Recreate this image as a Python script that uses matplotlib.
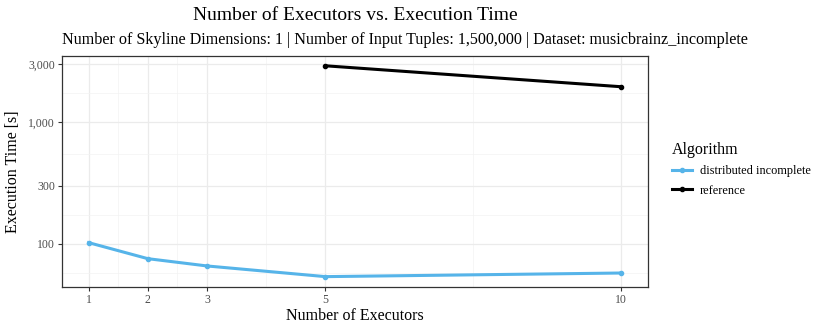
import matplotlib
matplotlib.use("Agg")
import matplotlib.pyplot as plt
from matplotlib.ticker import FixedLocator, NullFormatter

plt.rcParams['font.family'] = ['Liberation Serif', 'DejaVu Serif']

executors = [1, 2, 3, 5, 10]
dist_x = [1, 2, 3, 5, 10]
dist_y = [102, 75.3, 65.6, 53.6, 57.4]
ref_x = [5, 10]
ref_y = [2900, 1950]
x_ticks = [1, 2, 3, 5, 10]
y_ticks = [100, 300, 1000, 3000]
y_labels = ["100", "300", "1,000", "3,000"]

W, H = 830, 332
fig = plt.figure(figsize=(W/100, H/100), dpi=100)
L, R, T, B = 62, 648, 56, 286.7
ax = fig.add_axes([L/W, 1 - B/H, (R-L)/W, (B-T)/H])

ax.set_yscale('log')
ax.set_xlim(0.55, 10.45)
ax.set_ylim(44.3, 3490)

ax.plot(dist_x, dist_y, color='#56B4E9', lw=2.2, marker='o', ms=3.0, label='distributed incomplete', zorder=3)
ax.plot(ref_x, ref_y, color='black', lw=2.2, marker='o', ms=3.0, label='reference', zorder=3)

ax.xaxis.set_major_locator(FixedLocator(x_ticks))
ax.set_xticklabels([str(v) for v in x_ticks])
ax.xaxis.set_minor_locator(FixedLocator([1.5, 2.5, 4, 7.5]))
ax.yaxis.set_major_locator(FixedLocator(y_ticks))
ax.set_yticklabels(y_labels)
ax.yaxis.set_minor_locator(FixedLocator([57.7, 173.2, 547.7, 1732]))
ax.yaxis.set_minor_formatter(NullFormatter())
ax.xaxis.set_minor_formatter(NullFormatter())

ax.grid(which='major', color='#EBEBEB', lw=0.9)
ax.grid(which='minor', color='#F3F3F3', lw=0.5)
ax.set_axisbelow(True)
ax.tick_params(which='major', length=3, width=0.8, color='#333333', labelcolor='#4D4D4D', labelsize=8.5, pad=2)
ax.tick_params(which='minor', length=0)
for s in ax.spines.values():
    s.set_color('#333333')
    s.set_linewidth(0.9)

ax.set_xlabel('Number of Executors', fontsize=11.5, labelpad=2)
ax.set_ylabel('Execution Time [s]', fontsize=11.5, labelpad=5)

fig.text(355/W, 1 - 16/H, 'Number of Executors vs. Execution Time', ha='center', va='center', fontsize=14)
fig.text(L/W, 1 - 40/H, 'Number of Skyline Dimensions: 1 | Number of Input Tuples: 1,500,000 | Dataset: musicbrainz_incomplete',
         ha='left', va='center', fontsize=11.6)

leg = fig.legend(loc='upper left', bbox_to_anchor=(661/W, 1 - 131/H), title='Algorithm', frameon=False,
                 fontsize=8.8, title_fontsize=11.5, handlelength=1.6, handletextpad=0.7, labelspacing=0.6)
leg._legend_box.align = 'left'

fig.savefig('out.png', dpi=100)
